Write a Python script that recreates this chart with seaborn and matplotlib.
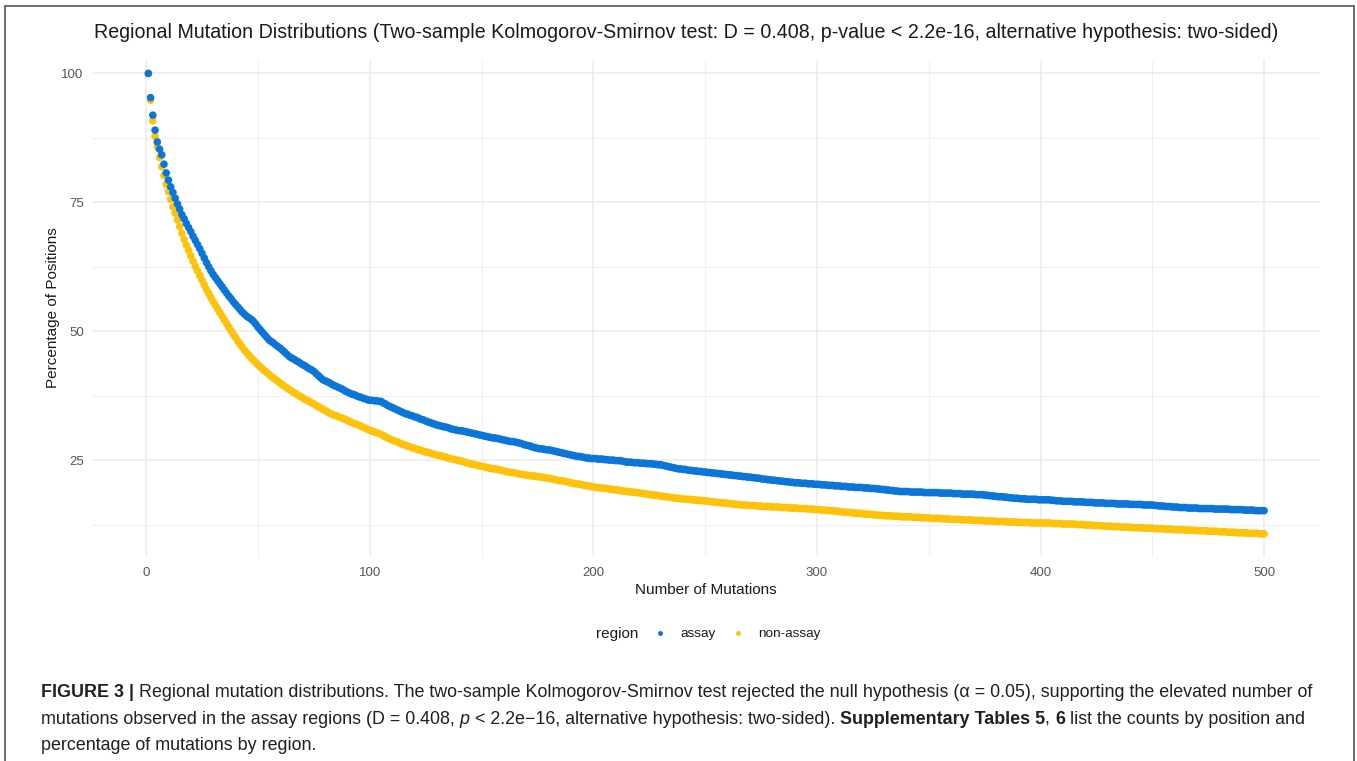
import numpy as np
import pandas as pd
import matplotlib
matplotlib.use("Agg")
import matplotlib.pyplot as plt
from matplotlib.patches import Rectangle
from matplotlib.font_manager import FontProperties
import seaborn as sns

# ---------------- data ----------------
regions = ["assay", "non-assay"]
mutations = list(range(1, 501))

assay_pct = [
    100.0, 95.3, 91.9, 89.0, 86.7, 85.3, 84.2, 82.4, 80.7, 79.3, 78.0, 76.9, 75.8, 74.7, 73.7, 72.6,  # 1-16
    71.8, 70.9, 70.1, 69.3, 68.4, 67.6, 66.8, 66.0, 65.1, 64.2, 63.3, 62.5, 61.7, 61.0,  # 17-30
    60.4, 59.8, 59.2, 58.6, 58.0,  # 31-35
    57.4, 56.8, 56.3, 55.7,  # 36-39
    55.2, 54.7, 54.2, 53.7, 53.3,  # 40-44
    52.9, 52.6, 52.3, 51.9,  # 45-48
    51.4, 50.8, 50.3,  # 49-51
    49.8, 49.3, 48.8, 48.3,  # 52-55
    48.0, 47.7, 47.3, 47.0, 46.7,  # 56-60
    46.3, 45.9, 45.5, 45.1,  # 61-64
    44.8, 44.6, 44.3, 44.1, 43.8,  # 65-69
    43.5, 43.3, 43.0, 42.7, 42.5, 42.2,  # 70-75
    41.8, 41.4, 41.0, 40.6,  # 76-79
    40.4, 40.2, 40.0, 39.7, 39.5, 39.3,  # 80-85
    39.1, 38.9, 38.7, 38.4, 38.2, 38.0,  # 86-91
    37.8, 37.7, 37.5, 37.3, 37.2, 37.0,  # 92-97
    36.9, 36.7, 36.6,  # 98-100
    36.6, 36.5, 36.5, 36.4, 36.4,  # 101-105
    36.1, 35.9, 35.6, 35.4,  # 106-109
    35.2, 35.0, 34.8, 34.6, 34.4, 34.2,  # 110-115
    34.0, 33.9, 33.7, 33.6, 33.4, 33.3, 33.1,  # 116-122
    32.9, 32.8, 32.6, 32.4, 32.3, 32.1, 32.0, 31.8,  # 123-130
    31.7, 31.6, 31.5, 31.4, 31.3, 31.1, 31.0,  # 131-137
    30.9, 30.8, 30.7, 30.7, 30.6, 30.5, 30.4, 30.3,  # 138-145
    30.2, 30.1, 30.0, 29.9, 29.8, 29.7, 29.6,  # 146-152
    29.5, 29.4, 29.3, 29.3, 29.2, 29.1, 29.0, 28.9,  # 153-160
    28.8, 28.7, 28.6, 28.6, 28.5, 28.4, 28.3,  # 161-167
    28.2, 28.0, 27.9, 27.8, 27.7, 27.5, 27.4, 27.3,  # 168-175
    27.2, 27.2, 27.1, 27.0, 27.0, 26.9, 26.8,  # 176-182
    26.7, 26.6, 26.5, 26.4, 26.3, 26.2, 26.1, 26.0,  # 183-190
    25.9, 25.8, 25.7, 25.7, 25.6, 25.5, 25.4,  # 191-197
    25.4, 25.3, 25.3, 25.3, 25.2, 25.2, 25.2,  # 198-204
    25.1, 25.1, 25.0, 25.0, 25.0, 24.9, 24.9, 24.9,  # 205-212
    24.8, 24.7, 24.6, 24.6, 24.6, 24.5, 24.5, 24.5, 24.4, 24.4,  # 213-222
    24.4, 24.3, 24.3, 24.3, 24.2, 24.2, 24.1, 24.1,  # 223-230
    24.0, 23.9, 23.8, 23.7, 23.6, 23.5, 23.4,  # 231-237
    23.3, 23.3, 23.2, 23.2, 23.1, 23.0, 23.0, 22.9,  # 238-245
    22.9, 22.8, 22.8, 22.7, 22.7, 22.6, 22.6,  # 246-252
    22.5, 22.5, 22.4, 22.4, 22.3, 22.3, 22.2, 22.2,  # 253-260
    22.1, 22.1, 22.0, 22.0, 21.9, 21.9, 21.8,  # 261-267
    21.8, 21.7, 21.7, 21.6, 21.6, 21.5, 21.5, 21.4,  # 268-275
    21.3, 21.3, 21.2, 21.2, 21.1, 21.1, 21.0,  # 276-282
    21.0, 20.9, 20.9, 20.8, 20.8, 20.7, 20.7,  # 283-289
    20.6, 20.6, 20.6, 20.5, 20.5, 20.5, 20.4, 20.4,  # 290-297
    20.4, 20.3, 20.3, 20.3, 20.2, 20.2, 20.2,  # 298-304
    20.1, 20.1, 20.1, 20.0, 20.0, 20.0, 19.9, 19.9,  # 305-312
    19.9, 19.8, 19.8, 19.8, 19.7, 19.7, 19.7, 19.7,  # 313-320
    19.6, 19.6, 19.6, 19.5, 19.5, 19.5, 19.4, 19.4, 19.3, 19.3,  # 321-330
    19.2, 19.2, 19.1, 19.1, 19.0, 19.0, 18.9,  # 331-337
    18.9, 18.9, 18.9, 18.9, 18.8, 18.8, 18.8, 18.8,  # 338-345
    18.8, 18.8, 18.7, 18.7, 18.7, 18.7, 18.7,  # 346-352
    18.7, 18.7, 18.6, 18.6, 18.6, 18.6, 18.6,  # 353-359
    18.6, 18.5, 18.5, 18.5, 18.5, 18.4, 18.4, 18.4,  # 360-367
    18.4, 18.4, 18.4, 18.3, 18.3, 18.3, 18.3,  # 368-374
    18.2, 18.2, 18.1, 18.1, 18.0, 18.0, 17.9, 17.9,  # 375-382
    17.9, 17.8, 17.8, 17.7, 17.7, 17.6, 17.6,  # 383-389
    17.6, 17.5, 17.5, 17.5, 17.4, 17.4, 17.4, 17.4,  # 390-397
    17.4, 17.3, 17.3, 17.3, 17.3, 17.3, 17.3,  # 398-404
    17.2, 17.2, 17.1, 17.1, 17.1, 17.0, 17.0, 17.0,  # 405-412
    17.0, 17.0, 16.9, 16.9, 16.9, 16.9, 16.9,  # 413-419
    16.8, 16.8, 16.8, 16.8, 16.7, 16.7, 16.7,  # 420-426
    16.7, 16.7, 16.6, 16.6, 16.6, 16.6, 16.6, 16.5, 16.5, 16.5, 16.5,  # 427-437
    16.5, 16.5, 16.4, 16.4, 16.4, 16.4, 16.4, 16.4, 16.3, 16.3, 16.3, 16.3, 16.3,  # 438-450
    16.2, 16.2, 16.1, 16.1, 16.1, 16.0, 16.0, 16.0, 15.9,  # 451-459
    15.9, 15.9, 15.8, 15.8, 15.8, 15.8, 15.7, 15.7,  # 460-467
    15.7, 15.7, 15.7, 15.6, 15.6, 15.6, 15.6,  # 468-474
    15.6, 15.6, 15.6, 15.5, 15.5, 15.5, 15.5, 15.5,  # 475-482
    15.5, 15.5, 15.4, 15.4, 15.4, 15.4, 15.4,  # 483-489
    15.4, 15.3, 15.3, 15.3, 15.3, 15.3, 15.2, 15.2, 15.2, 15.2, 15.2,  # 490-500
]

non_assay_pct = [
    100.0, 94.8, 90.8, 87.8, 85.7, 83.7, 81.9, 80.2, 78.5, 77.1,  # 1-10
    75.6, 74.1, 72.9, 71.6, 70.3, 69.0, 67.8, 66.7,  # 11-18
    65.7, 64.6, 63.6, 62.6, 61.7, 60.8, 59.9, 59.0, 58.1, 57.3, 56.5, 55.7,  # 19-30
    55.0, 54.3, 53.6, 52.9, 52.2,  # 31-35
    51.5, 50.8, 50.1, 49.4,  # 36-39
    48.8, 48.1, 47.5, 46.9, 46.3, 45.8,  # 40-45
    45.3, 44.8, 44.4, 43.9, 43.5, 43.1,  # 46-51
    42.7, 42.3, 42.0, 41.6, 41.2, 40.9,  # 52-57
    40.6, 40.3, 39.9, 39.6, 39.3, 39.0,  # 58-63
    38.7, 38.4, 38.1, 37.9, 37.6, 37.3,  # 64-69
    37.1, 36.8, 36.6, 36.4, 36.1, 35.9,  # 70-75
    35.6, 35.4, 35.1, 34.9, 34.6, 34.4, 34.1,  # 76-82
    33.9, 33.7, 33.6, 33.4, 33.2, 33.1, 32.9, 32.7,  # 83-90
    32.5, 32.3, 32.1, 32.0, 31.8, 31.6, 31.4,  # 91-97
    31.2, 31.0, 30.8,  # 98-100
    30.6, 30.5, 30.3, 30.2, 30.0,  # 101-105
    29.8, 29.5, 29.3,  # 106-108
    29.1, 28.9, 28.7, 28.6, 28.4, 28.2, 28.0,  # 109-115
    27.9, 27.7, 27.6, 27.4, 27.3, 27.1, 27.0,  # 116-122
    26.9, 26.7, 26.6, 26.5, 26.4, 26.2, 26.1, 26.0,  # 123-130
    25.9, 25.8, 25.7, 25.6, 25.4, 25.3, 25.2,  # 131-137
    25.1, 25.0, 24.9, 24.8, 24.7, 24.5, 24.4, 24.3,  # 138-145
    24.2, 24.1, 24.0, 23.9, 23.8, 23.7, 23.6,  # 146-152
    23.5, 23.4, 23.3, 23.3, 23.2, 23.1, 23.0, 22.9,  # 153-160
    22.8, 22.7, 22.6, 22.6, 22.5, 22.4, 22.3,  # 161-167
    22.2, 22.2, 22.1, 22.0, 22.0, 21.9, 21.9, 21.8,  # 168-175
    21.7, 21.7, 21.6, 21.5, 21.5, 21.4, 21.3,  # 176-182
    21.2, 21.1, 21.0, 21.0, 20.9, 20.8, 20.7, 20.6,  # 183-190
    20.5, 20.4, 20.4, 20.3, 20.2, 20.1, 20.0, 20.0, 19.9, 19.8,  # 191-200
    19.7, 19.7, 19.6, 19.6, 19.5, 19.5, 19.4,  # 201-207
    19.3, 19.3, 19.2, 19.2, 19.1, 19.0, 19.0, 18.9, 18.9, 18.8, 18.8, 18.7, 18.7, 18.6, 18.5,  # 208-222
    18.5, 18.4, 18.3, 18.3, 18.2, 18.2, 18.1, 18.0, 18.0, 17.9, 17.9, 17.8, 17.7, 17.7, 17.6,  # 223-237
    17.6, 17.5, 17.5, 17.4, 17.4, 17.4, 17.3, 17.3, 17.2, 17.2, 17.2, 17.1, 17.1, 17.0, 17.0,  # 238-252
    16.9, 16.9, 16.8, 16.8, 16.7, 16.7, 16.7, 16.6, 16.6, 16.5, 16.5, 16.4, 16.4, 16.3, 16.3,  # 253-267
    16.3, 16.2, 16.2, 16.2, 16.2, 16.1, 16.1, 16.1, 16.0, 16.0, 16.0, 16.0, 15.9, 15.9, 15.9,  # 268-282
    15.9, 15.8, 15.8, 15.8, 15.8, 15.7, 15.7, 15.7, 15.7, 15.6, 15.6, 15.6, 15.6, 15.5, 15.5,  # 283-297
    15.5, 15.4, 15.4, 15.4, 15.3, 15.3, 15.3, 15.2, 15.2, 15.2, 15.1, 15.1, 15.0, 15.0, 14.9,  # 298-312
    14.9, 14.9, 14.8, 14.8, 14.7, 14.7, 14.7, 14.6, 14.6, 14.5, 14.5, 14.5, 14.4, 14.4, 14.3, 14.3, 14.3, 14.2,  # 313-330
    14.2, 14.2, 14.2, 14.1, 14.1, 14.1, 14.1, 14.0, 14.0, 14.0, 14.0, 14.0, 13.9, 13.9, 13.9,  # 331-345
    13.9, 13.8, 13.8, 13.8, 13.8, 13.7, 13.7, 13.7, 13.7, 13.7, 13.6, 13.6, 13.6, 13.6,  # 346-359
    13.5, 13.5, 13.5, 13.5, 13.5, 13.4, 13.4, 13.4, 13.4, 13.4, 13.3, 13.3, 13.3, 13.3, 13.3,  # 360-374
    13.2, 13.2, 13.2, 13.2, 13.2, 13.1, 13.1, 13.1, 13.1, 13.1, 13.0, 13.0, 13.0, 13.0, 13.0,  # 375-389
    12.9, 12.9, 12.9, 12.9, 12.9, 12.9, 12.8, 12.8, 12.8, 12.8, 12.8, 12.8, 12.8, 12.8, 12.8,  # 390-404
    12.7, 12.7, 12.7, 12.7, 12.7, 12.6, 12.6, 12.6, 12.6, 12.6, 12.6, 12.5, 12.5, 12.5, 12.5,  # 405-419
    12.4, 12.4, 12.4, 12.4, 12.3, 12.3, 12.3, 12.3, 12.2, 12.2, 12.2, 12.2, 12.1, 12.1, 12.1, 12.1,  # 420-435
    12.0, 12.0, 12.0, 12.0, 12.0, 11.9, 11.9, 11.9, 11.9, 11.9, 11.8, 11.8, 11.8, 11.8, 11.8,  # 436-450
    11.7, 11.7, 11.7, 11.7, 11.7, 11.6, 11.6, 11.6, 11.6, 11.5, 11.5, 11.5, 11.5, 11.5, 11.4, 11.4, 11.4,  # 451-467
    11.4, 11.4, 11.3, 11.3, 11.3, 11.3, 11.3, 11.2, 11.2, 11.2, 11.2, 11.2, 11.1, 11.1, 11.1,  # 468-482
    11.1, 11.0, 11.0, 11.0, 11.0, 10.9, 10.9, 10.9, 10.9, 10.9, 10.8, 10.8, 10.8, 10.8, 10.8, 10.7, 10.7, 10.7,  # 483-500
]

assert len(assay_pct) == 500, len(assay_pct)
assert len(non_assay_pct) == 500, len(non_assay_pct)

x_ticks = [0, 100, 200, 300, 400, 500]
y_ticks = [25, 50, 75, 100]

title_text = ("Regional Mutation Distributions (Two-sample Kolmogorov-Smirnov test: "
              "D = 0.408, p-value < 2.2e-16, alternative hypothesis: two-sided)")

# non-assay first so assay dots are drawn on top
df = pd.concat([
    pd.DataFrame({"mutations": mutations, "pct": non_assay_pct, "region": "non-assay"}),
    pd.DataFrame({"mutations": mutations, "pct": assay_pct, "region": "assay"}),
], ignore_index=True)

# ---------------- figure ----------------
W, H = 1357, 761
sns.set_theme(style="white")
plt.rcParams["font.family"] = ["Liberation Sans", "DejaVu Sans"]

fig = plt.figure(figsize=(W / 100, H / 100), dpi=100)
fig.patch.set_facecolor("white")

def fx(px):
    return px / W

def fy(py):
    return 1 - py / H

ax_left, ax_right, ax_top, ax_bot = 92, 1320, 60, 556
ax = fig.add_axes([fx(ax_left), fy(ax_bot), (ax_right - ax_left) / W, (ax_bot - ax_top) / H])

palette = {"assay": "#0B76D8", "non-assay": "#FFC20A"}
sns.scatterplot(data=df, x="mutations", y="pct", hue="region", hue_order=regions,
                palette=palette, s=30, linewidth=0, ax=ax, legend=True, zorder=3)

ax.set_xlim(-24.2, 525.0)
ax.set_ylim(6.4, 102.6)
ax.set_xticks(x_ticks)
ax.set_yticks(y_ticks)
ax.set_xticks([50, 150, 250, 350, 450], minor=True)
ax.set_yticks([12.5, 37.5, 62.5, 87.5], minor=True)
ax.grid(True, which="major", color="#EBEBEB", linewidth=1.1, zorder=0)
ax.grid(True, which="minor", color="#EFEFEF", linewidth=0.7, zorder=0)
ax.set_axisbelow(True)
for sp in ax.spines.values():
    sp.set_visible(False)
ax.tick_params(axis="both", which="both", length=0, labelsize=9.5, labelcolor="#555555")
ax.tick_params(axis="x", pad=8)
ax.tick_params(axis="y", pad=6)
ax.set_xlabel("Number of Mutations", fontsize=11, color="#1a1a1a", labelpad=3)
ax.set_ylabel("Percentage of Positions", fontsize=11, color="#1a1a1a", labelpad=1)

# legend: horizontal, title at left
handles, labels = ax.get_legend_handles_labels()
ax.get_legend().remove()
leg = fig.legend(handles, labels, loc="center left", bbox_to_anchor=(fx(653), fy(634)),
                 ncol=2, frameon=False, fontsize=9.7, handlelength=1.0, handletextpad=1.0,
                 columnspacing=1.2, borderpad=0, borderaxespad=0, markerscale=0.65)
for t in leg.get_texts():
    t.set_color("#1a1a1a")
fig.text(fx(638), fy(634), "region", fontsize=11, color="#1a1a1a", ha="right", va="center")

# title
fig.text(fx(686), fy(32), title_text, fontsize=14.1, color="#1a1a1a", ha="center", va="center")

# frame around the figure
fig.patches.append(Rectangle((fx(5), -0.02), fx(1354) - fx(5), fy(6) + 0.02,
                             transform=fig.transFigure, fill=False, edgecolor="#6b6b6b",
                             linewidth=1.4, zorder=10))

# caption with mixed styles
fig.canvas.draw()
renderer = fig.canvas.get_renderer()
cap_size = 12.9
cap_color = "#231F20"

def run_width(s, weight, style):
    fp = FontProperties(family=["Liberation Sans", "DejaVu Sans"], size=cap_size,
                        weight=weight, style=style)
    w1, _, _ = renderer.get_text_width_height_descent("X" + s + "X", fp, ismath=False)
    w0, _, _ = renderer.get_text_width_height_descent("XX", fp, ismath=False)
    return w1 - w0

caption_lines = [
    [("FIGURE 3 |", "bold", "normal"),
     (" Regional mutation distributions. The two-sample Kolmogorov-Smirnov test rejected the null "
      "hypothesis (\u03b1 = 0.05), supporting the elevated number of", "normal", "normal")],
    [("mutations observed in the assay regions (D = 0.408, ", "normal", "normal"),
     ("p", "normal", "italic"),
     (" < 2.2e\u221216, alternative hypothesis: two-sided). ", "normal", "normal"),
     ("Supplementary Tables 5", "bold", "normal"),
     (", ", "normal", "normal"),
     ("6", "bold", "normal"),
     (" list the counts by position and", "normal", "normal")],
    [("percentage of mutations by region.", "normal", "normal")],
]
baselines = [697, 724, 750]
for runs, base in zip(caption_lines, baselines):
    x = 41.0
    for s, weight, style in runs:
        fig.text(fx(x), fy(base), s, fontsize=cap_size, fontweight=weight, fontstyle=style,
                 color=cap_color, ha="left", va="baseline")
        x += run_width(s, weight, style)

fig.savefig("out.png", dpi=100, facecolor="white")
